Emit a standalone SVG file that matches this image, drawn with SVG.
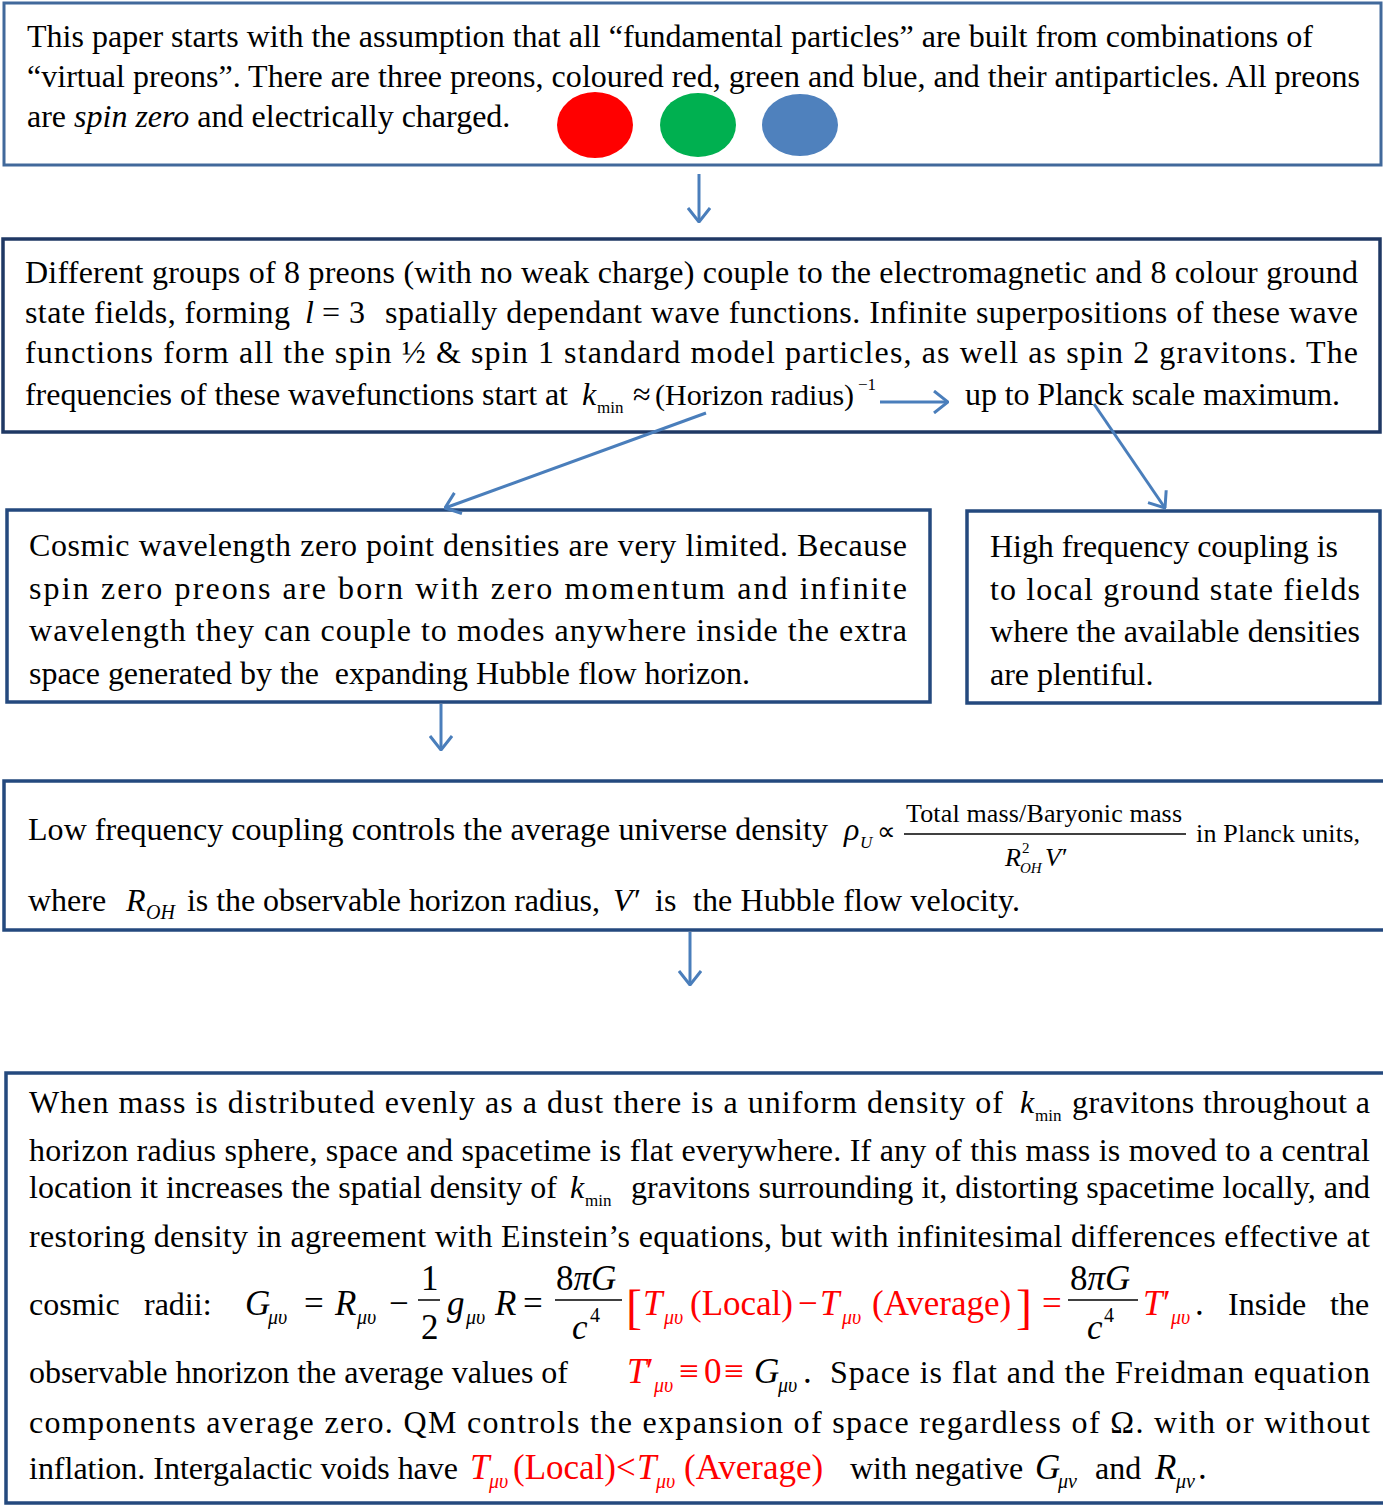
<svg xmlns="http://www.w3.org/2000/svg" width="1383" height="1506" viewBox="0 0 1383 1506">
<defs>
<style>
.t{font-family:"Liberation Serif","Times New Roman",serif;font-size:32px;fill:#000}
.i{font-style:italic}
.sub{font-size:20px;font-style:italic}
.up{font-size:17px;font-style:normal}
.m{font-size:35px}
.red{fill:#ff0000}
.b1{fill:#fff;stroke:#41699b;stroke-width:3}
.b{fill:#fff;stroke:#24497e;stroke-width:3.5}
.b2{fill:#fff;stroke:#1f3864;stroke-width:3.5}
.c{fill:none;stroke:#4a7ebb;stroke-width:3;marker-end:url(#ah)}
.fl{stroke:#000;stroke-width:1.5}
</style>
<marker id="ah" viewBox="0 0 16 24" refX="15" refY="12" markerWidth="16" markerHeight="24" markerUnits="userSpaceOnUse" orient="auto">
<path d="M1,1 L15,12 L1,23" fill="none" stroke="#4a7ebb" stroke-width="3"/>
</marker>
</defs>
<rect width="1383" height="1506" fill="#fff"/>

<g id="node1">
<rect class="b1" x="4" y="3" width="1377" height="162"/>
<text class="t" x="27" y="47" textLength="1286" lengthAdjust="spacing">This paper starts with the assumption that all “fundamental particles” are built from combinations of</text>
<text class="t" x="27" y="87" textLength="1333" lengthAdjust="spacing">“virtual preons”. There are three preons, coloured red, green and blue, and their antiparticles. All preons</text>
<text class="t" x="27" y="127">are <tspan class="i">spin zero</tspan> and electrically charged.</text>
<ellipse cx="595" cy="125" rx="38" ry="33" fill="#ff0000"/>
<ellipse cx="698" cy="125" rx="38" ry="32" fill="#00b050"/>
<ellipse cx="800" cy="125" rx="38" ry="31" fill="#4f81bd"/>
</g>

<g id="node2">
<rect class="b2" x="3" y="239" width="1377" height="193"/>
<text class="t" x="25" y="283" textLength="1333" lengthAdjust="spacing">Different groups of 8 preons (with no weak charge) couple to the electromagnetic and 8 colour ground</text>
<text class="t" x="25" y="323" textLength="265" lengthAdjust="spacing">state fields, forming</text>
<text class="t" x="305" y="323"><tspan class="i">l</tspan><tspan x="322">=</tspan><tspan x="349">3</tspan></text>
<text class="t" x="385" y="323" textLength="973" lengthAdjust="spacing">spatially dependant wave functions. Infinite superpositions of these wave</text>
<text class="t" x="25" y="363" textLength="1333" lengthAdjust="spacing">functions form all the spin ½ &amp; spin 1 standard model particles, as well as spin 2 gravitons. The</text>
<text class="t" x="25" y="405" textLength="543" lengthAdjust="spacing">frequencies of these wavefunctions start at</text>
<text class="t" x="582" y="405"><tspan class="i">k</tspan><tspan class="up" x="597" dy="8">min</tspan><tspan x="633" dy="-8">≈</tspan></text>
<text class="t" x="655" y="405" style="font-size:30px">(Horizon radius)</text>
<text class="t up" x="858" y="390">−1</text>
<text class="t" x="965" y="405" textLength="375" lengthAdjust="spacing">up to Planck scale maximum.</text>
</g>

<g id="node3">
<rect class="b" x="7" y="510" width="923" height="192"/>
<text class="t" x="29" y="556" textLength="878" lengthAdjust="spacing">Cosmic wavelength zero point densities are very limited. Because</text>
<text class="t" x="29" y="599" textLength="878" lengthAdjust="spacing">spin zero preons are born with zero momentum and infinite</text>
<text class="t" x="29" y="641" textLength="878" lengthAdjust="spacing">wavelength they can couple to modes anywhere inside the extra</text>
<text class="t" x="29" y="684" textLength="721" lengthAdjust="spacing" xml:space="preserve">space generated by the  expanding Hubble flow horizon.</text>
</g>

<g id="node4">
<rect class="b" x="967" y="511" width="413" height="192"/>
<text class="t" x="990" y="557" textLength="348" lengthAdjust="spacing">High frequency coupling is</text>
<text class="t" x="990" y="600" textLength="370" lengthAdjust="spacing">to local ground state fields</text>
<text class="t" x="990" y="642" textLength="370" lengthAdjust="spacing">where the available densities</text>
<text class="t" x="990" y="685">are plentiful.</text>
</g>

<g id="node5">
<rect class="b" x="4" y="781" width="1384" height="149"/>
<text class="t" x="28" y="840" textLength="800" lengthAdjust="spacing">Low frequency coupling controls the average universe density</text>
<text class="t" x="844" y="840"><tspan class="i">ρ</tspan><tspan class="i" x="860" dy="8" style="font-size:17px">U</tspan><tspan x="877" dy="-8" style="font-size:26px">∝</tspan></text>
<text class="t" x="906" y="822" style="font-size:26px" textLength="276" lengthAdjust="spacing">Total mass/Baryonic mass</text>
<line class="fl" x1="904" y1="834" x2="1186" y2="834"/>
<text class="t" x="1005" y="866" style="font-size:26px"><tspan class="i">R</tspan><tspan x="1022" dy="-13" style="font-size:15px">2</tspan><tspan class="i" x="1020" dy="20" style="font-size:15px">OH</tspan><tspan class="i" x="1045" dy="-7">V</tspan><tspan x="1062">′</tspan></text>
<text class="t" x="1196" y="842" style="font-size:26px" textLength="164" lengthAdjust="spacing">in Planck units,</text>
<text class="t" x="28" y="911">where</text>
<text class="t" x="126" y="911"><tspan class="i">R</tspan><tspan class="sub" x="146" dy="8">OH</tspan></text>
<text class="t" x="187" y="911" textLength="413" lengthAdjust="spacing">is the observable horizon radius,</text>
<text class="t" x="613" y="911"><tspan class="i">V</tspan><tspan x="634">′</tspan></text>
<text class="t" x="655" y="911">is</text>
<text class="t" x="693" y="911" textLength="327" lengthAdjust="spacing">the Hubble flow velocity.</text>
</g>

<g id="node6">
<rect class="b" x="6" y="1073" width="1382" height="430"/>
<text class="t" x="29" y="1113" textLength="974" lengthAdjust="spacing">When mass is distributed evenly as a dust there is a uniform density of</text>
<text class="t" x="1020" y="1113"><tspan class="i">k</tspan><tspan class="up" x="1035" dy="8">min</tspan></text>
<text class="t" x="1072" y="1113" textLength="298" lengthAdjust="spacing">gravitons throughout a</text>
<text class="t" x="29" y="1161" textLength="1341" lengthAdjust="spacing">horizon radius sphere, space and spacetime is flat everywhere. If any of this mass is moved to a central</text>
<text class="t" x="29" y="1198" textLength="528" lengthAdjust="spacing">location it increases the spatial density of</text>
<text class="t" x="570" y="1198"><tspan class="i">k</tspan><tspan class="up" x="585" dy="8">min</tspan></text>
<text class="t" x="631" y="1198" textLength="739" lengthAdjust="spacing">gravitons surrounding it, distorting spacetime locally, and</text>
<text class="t" x="29" y="1247" textLength="1341" lengthAdjust="spacing">restoring density in agreement with Einstein’s equations, but with infinitesimal differences effective at</text>

<text class="t" x="29" y="1315">cosmic</text>
<text class="t" x="144" y="1315">radii:</text>
<text class="t m" x="245" y="1315"><tspan class="i">G</tspan><tspan class="sub" x="268" dy="9">μυ</tspan><tspan x="304" dy="-9">=</tspan><tspan class="i" x="335">R</tspan><tspan class="sub" x="357" dy="9">μυ</tspan><tspan x="389" dy="-9">−</tspan></text>
<text class="t m" x="421" y="1290">1</text>
<line class="fl" x1="418" y1="1300" x2="440" y2="1300"/>
<text class="t m" x="421" y="1339">2</text>
<text class="t m" x="447" y="1315"><tspan class="i">g</tspan><tspan class="sub" x="466" dy="9">μυ</tspan><tspan class="i" x="495" dy="-9">R</tspan><tspan x="523">=</tspan></text>
<text class="t m" x="556" y="1290">8<tspan class="i">πG</tspan></text>
<line class="fl" x1="555" y1="1300" x2="622" y2="1300"/>
<text class="t m" x="572" y="1339"><tspan class="i">c</tspan><tspan class="up" x="590" dy="-17" style="font-size:20px">4</tspan></text>
<text class="t red" x="626" y="1323" style="font-size:48px">[</text>
<text class="t m red" x="643" y="1315"><tspan class="i">T</tspan><tspan class="sub" x="664" dy="9">μυ</tspan><tspan x="690" dy="-9">(Local)</tspan><tspan x="798">−</tspan><tspan class="i" x="820">T</tspan><tspan class="sub" x="842" dy="9">μυ</tspan><tspan x="872" dy="-9">(Average)</tspan></text>
<text class="t red" x="1016" y="1323" style="font-size:48px">]</text>
<text class="t m red" x="1042" y="1315">=</text>
<text class="t m" x="1070" y="1290">8<tspan class="i">πG</tspan></text>
<line class="fl" x1="1068" y1="1300" x2="1138" y2="1300"/>
<text class="t m" x="1087" y="1339"><tspan class="i">c</tspan><tspan class="up" x="1104" dy="-17" style="font-size:20px">4</tspan></text>
<text class="t m red" x="1143" y="1315"><tspan class="i">T</tspan><tspan x="1163">′</tspan><tspan class="sub" x="1171" dy="9">μυ</tspan><tspan x="1195" dy="-9" style="fill:#000">.</tspan></text>
<text class="t" x="1228" y="1315">Inside</text>
<text class="t" x="1330" y="1315">the</text>

<text class="t" x="29" y="1383" textLength="539" lengthAdjust="spacing">observable hnorizon the average values of</text>
<text class="t m red" x="627" y="1383"><tspan class="i">T</tspan><tspan x="646">′</tspan><tspan class="sub" x="654" dy="9">μυ</tspan><tspan x="679" dy="-9">≡</tspan><tspan x="704">0</tspan><tspan x="724">≡</tspan></text>
<text class="t m" x="754" y="1383"><tspan class="i">G</tspan><tspan class="sub" x="778" dy="9">μυ</tspan><tspan x="803" dy="-9">.</tspan></text>
<text class="t" x="830" y="1383" textLength="540" lengthAdjust="spacing">Space is flat and the Freidman equation</text>
<text class="t" x="29" y="1433" textLength="1341" lengthAdjust="spacing">components average zero. QM controls the expansion of space regardless of Ω. with or without</text>
<text class="t" x="29" y="1479" textLength="429" lengthAdjust="spacing">inflation. Intergalactic voids have</text>
<text class="t m red" x="470" y="1479"><tspan class="i">T</tspan><tspan class="sub" x="489" dy="9">μυ</tspan><tspan x="513" dy="-9">(Local)&lt;</tspan><tspan class="i" x="637">T</tspan><tspan class="sub" x="656" dy="9">μυ</tspan><tspan x="684" dy="-9">(Average)</tspan></text>
<text class="t" x="850" y="1479">with negative</text>
<text class="t m" x="1035" y="1479"><tspan class="i">G</tspan><tspan class="sub" x="1058" dy="9">μν</tspan></text>
<text class="t" x="1095" y="1479">and</text>
<text class="t m" x="1155" y="1479"><tspan class="i">R</tspan><tspan class="sub" x="1176" dy="9">μν</tspan><tspan x="1198" dy="-9">.</tspan></text>
</g>

<g id="connectors">
<path class="c" d="M699,174 L699,222"/>
<path class="c" d="M880,402 L948,402"/>
<path class="c" d="M706,413 L445,508"/>
<path class="c" d="M1094,404 L1165,508"/>
<path class="c" d="M441,704 L441,750"/>
<path class="c" d="M690,932 L690,985"/>
</g>
</svg>
